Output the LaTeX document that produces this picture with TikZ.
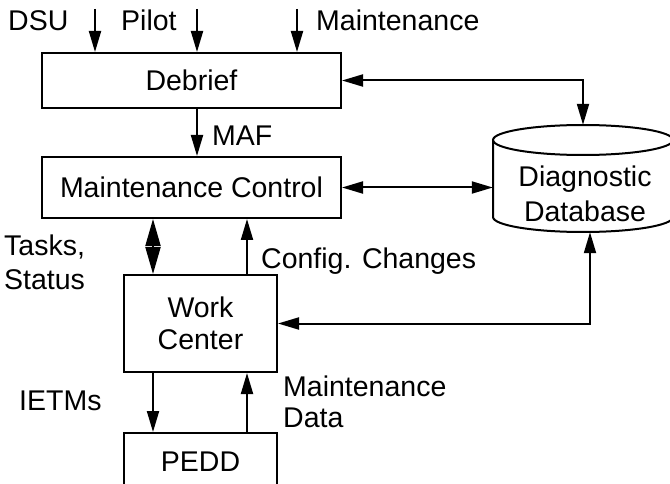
\documentclass[tikz,border=0pt]{standalone}
\usepackage{fontspec}
\setmainfont{Liberation Sans}
\usetikzlibrary{arrows.meta}
\begin{document}
\begin{tikzpicture}[x=1pt,y=-1pt,
  box/.style={draw, line width=2pt, inner sep=0pt, font=\fontsize{28.5}{32}\selectfont, align=center},
  lbl/.style={inner sep=0pt, font=\fontsize{28.5}{32}\selectfont, anchor=base west},
  arr/.style={line width=2pt, -{Triangle[length=21pt,width=12pt]}},
  darr/.style={line width=2pt, {Triangle[length=21pt,width=12pt]}-{Triangle[length=21pt,width=12pt]}},
  diam/.style={line width=2pt, {Triangle[length=27pt,width=15pt]}-{Triangle[length=27pt,width=15pt]}},
  cyl/.style={line width=2pt},
]
\useasboundingbox (0,0) rectangle (670,484);
\clip (0,0) rectangle (670,484);

% boxes
\node[box, minimum width=299pt, minimum height=55pt] (Debrief) at (191.5,80.5) {Debrief};
\node[box, minimum width=299pt, minimum height=61pt] (MC) at (191.5,187.5) {Maintenance Control};
\node[box, minimum width=153pt, minimum height=97pt] (WC) at (200.5,323.5) {Work\\Center};
\node[box, minimum width=153pt, minimum height=58pt] (PEDD) at (200.5,462) {PEDD};

% diagnostic database cylinder
\node[minimum width=180pt, minimum height=107pt, inner sep=0pt] (DB) at (583,178.5) {};
\draw[cyl] (583,140) ellipse [x radius=90, y radius=15];
\draw[cyl] (493,140) -- (493,217) arc[start angle=180, end angle=0, x radius=90, y radius=15] -- (673,140);
\node[lbl, anchor=base] (DBt1) at (585,187) {Diagnostic};
\node[lbl, anchor=base] (DBt2) at (585,222) {Database};

% top labels
\node[lbl] (lDSU) at (8,31) {DSU};
\node[lbl] (lPilot) at (121,31) {Pilot};
\node[lbl] (lMaint) at (316,31) {Maintenance};
\coordinate (xD) at (95,9);
\coordinate (xP) at (197,9);
\coordinate (xM) at (297,9);
\draw[arr] (xD) -- (xD |- Debrief.north);
\draw[arr] (xP) -- (xP |- Debrief.north);
\draw[arr] (xM) -- (xM |- Debrief.north);

% Debrief <-> DB
\draw[darr] (Debrief.east) -| (DB.north);
% MAF
\draw[arr] (Debrief.south -| xP) -- (MC.north -| xP);
\node[lbl] (lMAF) at (212,146) {MAF};
% MC <-> DB
\draw[darr] (MC.east) -- (MC.east -| DB.west);

% MC <-> WC
\coordinate (xT) at (153,0);
\coordinate (xC) at (247,0);
\draw[diam] (MC.south -| xT) -- (WC.north -| xT);
\node[lbl] (lTasks) at (4,255) {Tasks,};
\node[lbl] (lStatus) at (4,289) {Status};
\draw[arr] (WC.north -| xC) -- (MC.south -| xC);
\node[lbl] (lConfig) at (261,268) {Config. Changes};

% DB <-> WC
\coordinate (xB) at (590,0);
\draw[darr] (DB.south -| xB) |- (WC.east);

% WC <-> PEDD
\draw[arr] (WC.south -| xT) -- (PEDD.north -| xT);
\node[lbl] (lIETM) at (19,410) {IETMs};
\draw[arr] (PEDD.north -| xC) -- (WC.south -| xC);
\node[lbl] (lMD1) at (283,396) {Maintenance};
\node[lbl] (lMD2) at (283,427) {Data};
\end{tikzpicture}
\end{document}
